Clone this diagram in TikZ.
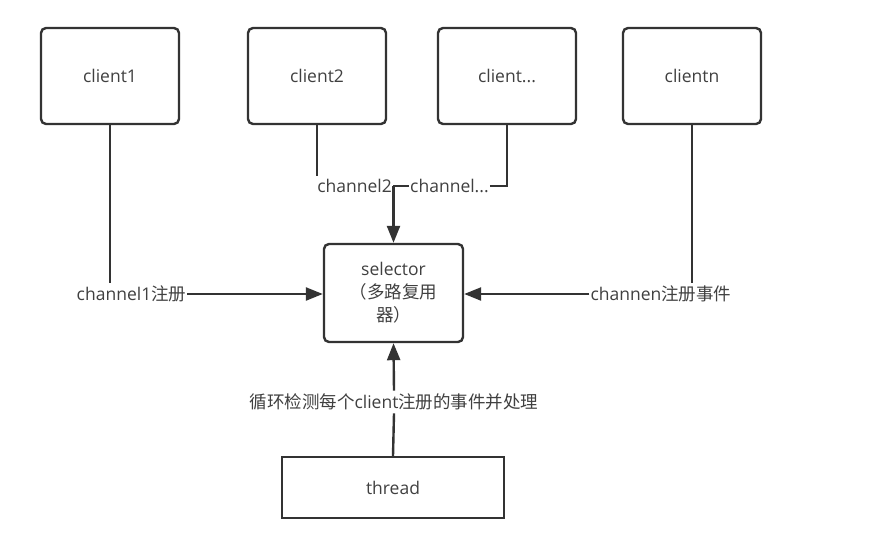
\documentclass[tikz,border=0pt]{standalone}
\usepackage{fontspec}
\setmainfont{Open Sans}
\newfontfamily\cjk{Noto Sans CJK SC}
\usetikzlibrary{arrows.meta}
\definecolor{linea}{HTML}{333333}
\definecolor{testo}{HTML}{404040}
\begin{document}
\begin{tikzpicture}[x=1pt,y=-1pt,line width=2.4pt,
    scatola/.style={draw=linea,rounded corners=5pt,minimum width=138pt,minimum height=96pt,
        inner sep=0pt,text=testo,font=\fontsize{17.5}{23}\selectfont},
    etich/.style={fill=white,inner xsep=0pt,inner ysep=2pt,text=testo,font=\fontsize{17.5}{20}\selectfont},
    freccia/.style={draw=linea,-{Triangle[length=17pt,width=13pt]}}]
        % --- cornice ------------------------------------------------------
        \useasboundingbox (0,0) rectangle (877,538);
        % --- client -------------------------------------------------------
        \node[scatola] (c1) at (110,76) {client1};
        \node[scatola] (c2) at (317,76) {client2};
        \node[scatola] (c3) at (507,76) {client...};
        \node[scatola] (cn) at (692,76) {clientn};
        % --- selector e thread --------------------------------------------
        \node[scatola,minimum width=139pt,minimum height=98pt,align=center] (sel) at (393.5,293)
            {selector\\{\cjk （多路复用}\\{\cjk 器）}};
        \node[scatola,rounded corners=0pt,minimum width=222pt,minimum height=61pt] (th) at (393,487.5) {thread};
        % --- etichette ----------------------------------------------------
        \node[etich] (l1) at (131.5,294) {channel1{\cjk 注册}};
        \node[etich,anchor=east] (l2) at (393,186) {channel2};
        \node[etich,anchor=west] (l3) at (409,186) {channel...};
        \node[etich] (ln) at (661,294) {channen{\cjk 注册事件}};
        \node[etich] (lt) at (394,402) {{\cjk 循环检测每个}client{\cjk 注册的事件并处理}};
        % --- collegamenti -------------------------------------------------
        \draw[linea] (c1.south) -- (c1.south |- l1.north);
        \draw[freccia] (l1.east) -- (sel.west |- l1.east);
        \draw[linea] (c2.south) -- (c2.south |- l2.north);
        \draw[linea] (l2.east) -- (l3.west);
        \draw[linea] (l3.east) -| (c3.south);
        \draw[freccia] (sel.north |- l2.east) -- (sel.north);
        \draw[linea] (cn.south) -- (cn.south |- ln.north);
        \draw[freccia] (ln.west) -- (sel.east |- ln.west);
        \draw[linea] (th.north) -- (lt.south);
        \draw[freccia] (lt.north) -- (sel.south);
    \end{tikzpicture}
\end{document}
